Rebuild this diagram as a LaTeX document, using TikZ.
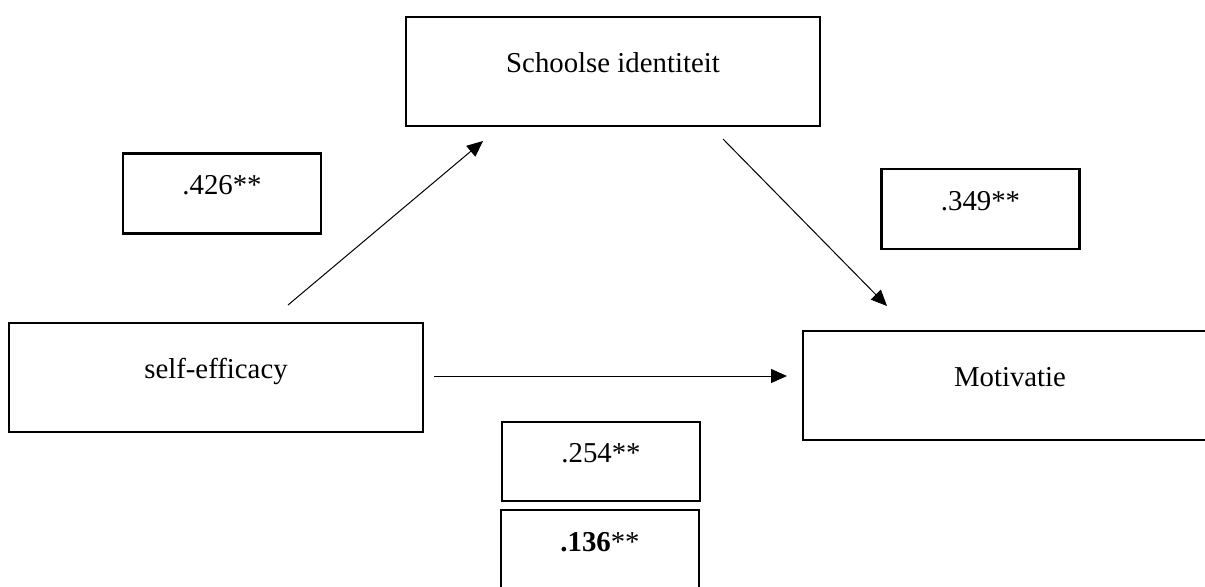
\documentclass[tikz,border=0pt]{standalone}
\usepackage{fontspec}
\setmainfont{Liberation Serif}
\usetikzlibrary{arrows.meta}

\tikzset{
    box/.style={draw, line width=1.25pt, minimum width=99pt, minimum height=40pt,
        text height=10pt, text depth=9pt, font=\fontsize{14.4}{17}\selectfont},
    bigbox/.style={box, minimum width=207pt, minimum height=54.5pt},
}

\begin{document}
\begin{tikzpicture}[x=0.5pt, y=-0.5pt, >={Triangle[length=8pt, width=7pt]}, line width=0.5pt]
    \useasboundingbox (0,0) rectangle (1205,586);
    \clip (0,0) rectangle (1205,586);

    \path (613, 71.5) node [bigbox] (si) {Schoolse identiteit};
    \path (216, 377.5) node [bigbox] (se) {self-efficacy};
    \path (1010, 385.5) node [bigbox] (mo) {Motivatie};

    \path (222, 193.5) node [box] (ba) {.426**};
    \path (980.5, 209) node [box] (bb) {.349**};
    \path (601, 461.5) node [box, minimum height=39.5pt] (bc) {.254**};
    \path (600, 550) node [box] (bd) {\textbf{.136}**};

    % free ends of the paths
    \coordinate (seup) at (288, 305);
    \coordinate (sidown) at (483, 141);
    \coordinate (siout) at (723, 139);
    \coordinate (moin) at (887, 306);
    \coordinate (seout) at (434, 376);
    \coordinate (moleft) at (787, 376);

    \draw [->] (seup) -- (sidown);
    \draw [->] (siout) -- (moin);
    \draw [->] (seout) -- (moleft);
\end{tikzpicture}
\end{document}
